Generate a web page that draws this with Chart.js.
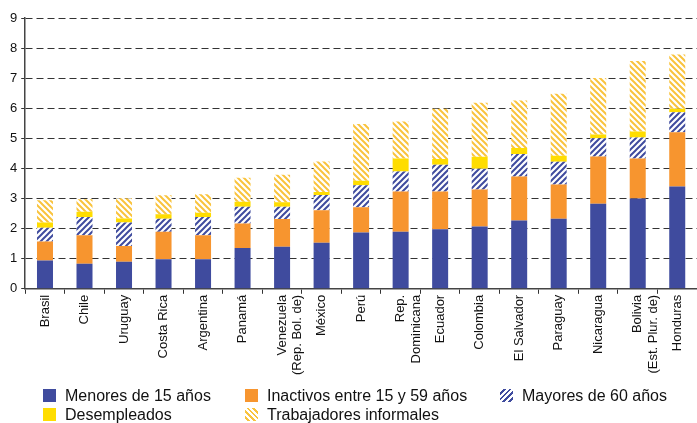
<!DOCTYPE html>
<html>
<head>
<meta charset="utf-8">
<script src="https://cdn.jsdelivr.net/npm/chart.js@4"></script>
<style>
  body { margin: 0; background: #fff; overflow: hidden; }
  #wrap { position: relative; width: 697px; height: 423px; }
  .leg { position: absolute; font-family: "Liberation Sans", Arial, sans-serif; font-size: 16px; color: #111; white-space: nowrap; line-height: 19px; }
  .leg span.sw { position: absolute; left: 0; top: 3px; width: 13px; height: 13px; }
  .leg span.tx { position: absolute; left: 22px; top: 0; }
</style>
</head>
<body>
<div id="wrap">
  <canvas id="myChart"></canvas>
  <div class="leg" style="left:43px;top:386px"><span class="sw" style="background:#3F4B9E"></span><span class="tx">Menores de 15 años</span></div>
  <div class="leg" style="left:245px;top:386px"><span class="sw" style="background:#F7952F"></span><span class="tx">Inactivos entre 15 y 59 años</span></div>
  <div class="leg" style="left:500px;top:386px"><span class="sw" style="background:repeating-linear-gradient(-45deg,#fff 0 2px,#3F4B9E 2px 4px)"></span><span class="tx">Mayores de 60 años</span></div>
  <div class="leg" style="left:43px;top:405px"><span class="sw" style="background:#FFDD00"></span><span class="tx">Desempleados</span></div>
  <div class="leg" style="left:245px;top:405px"><span class="sw" style="background:repeating-linear-gradient(45deg,#fff 0 2px,#F9C33D 2px 4px)"></span><span class="tx">Trabajadores informales</span></div>
</div>
<script>
'use strict';

// countries, left to right
let countries = [
  'Brasil', 'Chile', 'Uruguay', 'Costa Rica', 'Argentina', 'Panamá',
  ['Venezuela', '(Rep. Bol. de)'], 'México', 'Perú', ['Rep.', 'Dominicana'],
  'Ecuador', 'Colombia', 'El Salvador', 'Paraguay', 'Nicaragua',
  ['Bolivia', '(Est. Plur. de)'], 'Honduras'
];

// stacked pieces, bottom to top
let menores      = [0.94, 0.83, 0.90, 0.98, 0.98, 1.36, 1.40, 1.53, 1.87, 1.90, 1.98, 2.07, 2.27, 2.33, 2.83, 3.00, 3.40];
let inactivos    = [0.63, 0.95, 0.52, 0.92, 0.80, 0.81, 0.92, 1.08, 0.84, 1.33, 1.25, 1.23, 1.46, 1.14, 1.57, 1.33, 1.80];
let mayores      = [0.46, 0.61, 0.78, 0.43, 0.61, 0.56, 0.41, 0.51, 0.73, 0.67, 0.89, 0.69, 0.75, 0.75, 0.60, 0.70, 0.67];
let desempleados = [0.17, 0.17, 0.14, 0.15, 0.14, 0.16, 0.15, 0.10, 0.15, 0.43, 0.19, 0.40, 0.20, 0.20, 0.13, 0.20, 0.11];
let informales   = [0.74, 0.42, 0.67, 0.63, 0.61, 0.80, 0.91, 1.01, 1.89, 1.23, 1.67, 1.79, 1.58, 2.06, 1.88, 2.34, 1.81];

let yTicks = [0, 1, 2, 3, 4, 5, 6, 7, 8, 9];

// diagonal hatch on white
function makeHatch(color, dir) {
  let size = 6;
  let c = document.createElement('canvas');
  c.width = size;
  c.height = size;
  let g = c.getContext('2d');
  g.fillStyle = '#fff';
  g.fillRect(0, 0, size, size);
  g.strokeStyle = color;
  g.lineWidth = 2;
  g.beginPath();
  if (dir === '/') {
    g.moveTo(0, size); g.lineTo(size, 0);
    g.moveTo(-size / 2, size / 2); g.lineTo(size / 2, -size / 2);
    g.moveTo(size / 2, size * 1.5); g.lineTo(size * 1.5, size / 2);
  } else {
    g.moveTo(0, 0); g.lineTo(size, size);
    g.moveTo(-size / 2, size / 2); g.lineTo(size / 2, size * 1.5);
    g.moveTo(size / 2, -size / 2); g.lineTo(size * 1.5, size / 2);
  }
  g.stroke();
  return g.createPattern(c, 'repeat');
}

let font = 'Liberation Sans';

let chartObject = {
  type: 'bar',
  data: {
    labels: countries,
    datasets: [
      { label: 'Menores de 15 años', data: menores, backgroundColor: '#3F4B9E' },
      { label: 'Inactivos entre 15 y 59 años', data: inactivos, backgroundColor: '#F7952F' },
      { label: 'Mayores de 60 años', data: mayores, backgroundColor: makeHatch('#3F4B9E', '/') },
      { label: 'Desempleados', data: desempleados, backgroundColor: '#FFDD00' },
      { label: 'Trabajadores informales', data: informales, backgroundColor: makeHatch('#F9C33D', '\\') }
    ]
  },
  options: {
    responsive: true,
    maintainAspectRatio: false,
    animation: false,
    barPercentage: 0.405,
    categoryPercentage: 1,
    layout: { padding: { top: 18, left: 6, right: 0, bottom: 47 } },
    plugins: {
      legend: { display: false },
      tooltip: { enabled: false }
    },
    scales: {
      x: {
        stacked: true,
        grid: { drawOnChartArea: false, color: '#333', tickLength: 5 },
        border: { color: '#444', width: 1.5 },
        ticks: {
          autoSkip: false,
          maxRotation: 90,
          minRotation: 90,
          padding: 1,
          color: '#111',
          font: { family: font, size: 13 }
        }
      },
      y: {
        stacked: true,
        min: 0,
        max: 9,
        afterBuildTicks: (axis) => { axis.ticks = yTicks.map(v => ({ value: v })); },
        grid: { color: '#333', tickLength: 4, tickColor: '#333' },
        border: { color: '#444', width: 1.5, dash: [7, 4] },
        ticks: {
          padding: 4,
          color: '#111',
          font: { family: font, size: 13 }
        }
      }
    }
  }
};

let ctx = document.getElementById('myChart').getContext('2d');
let myChart = new Chart(ctx, chartObject);
</script>
</body>
</html>
